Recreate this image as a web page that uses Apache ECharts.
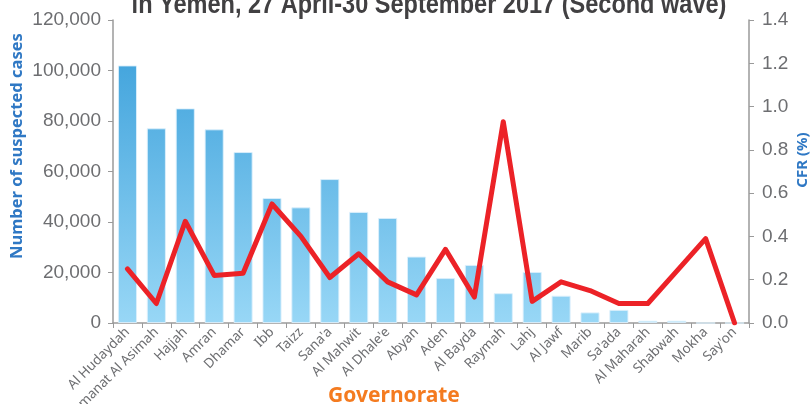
<!DOCTYPE html>
<html><head><meta charset="utf-8">
<script src="https://cdn.jsdelivr.net/npm/echarts@6/dist/echarts.min.js"></script>
<style>html,body{margin:0;padding:0;background:#fff}#c{width:812px;height:404px}</style>
</head><body><div id="c"></div>
<script>
const categories = ["Al Hudaydah","Amanat Al Asimah","Hajjah","Amran","Dhamar","Ibb","Taizz","Sana'a","Al Mahwit","Al Dhale'e","Abyan","Aden","Al Bayda","Raymah","Lahj","Al Jawf","Marib","Sa'ada","Al Maharah","Shabwah","Mokha","Say'on"];
const cases = [102000,77100,85000,76700,67700,49500,45800,57000,44000,41600,26300,17800,23000,11800,20200,10800,4200,5200,900,900,0,0];
const cfr = [0.25,0.09,0.47,0.22,0.23,0.55,0.40,0.21,0.32,0.19,0.13,0.34,0.12,0.93,0.10,0.19,0.15,0.09,0.09,0.24,0.39,0.00];
const leftTicks = [0,20000,40000,60000,80000,100000,120000];
const rightTicks = [0,0.2,0.4,0.6,0.8,1.0,1.2,1.4];
const titleText = 'in Yemen, 27 April-30 September 2017 (Second wave)';
const leftName = 'Number of suspected cases';
const rightName = 'CFR (%)';
const xName = 'Governorate';

const gray = '#6d6e71', axisGray = '#9a9a9a', blue = '#2f78c4';
const chart = echarts.init(document.getElementById('c'));
chart.setOption({
  animation:false,
  grid:{left:113, right:63, top:20, bottom:81, containLabel:false, outerBoundsMode:'none'},
  graphic:[
    {type:'text', x:429, y:5, scaleX:0.84, z:100,
     style:{text:titleText, font:'bold 28px "Liberation Sans", Arial, sans-serif', fill:'#414042', textAlign:'center', textVerticalAlign:'middle'}},
    {type:'text', x:17, y:146, rotation:Math.PI/2,
     style:{text:leftName, font:'bold 16.5px "Noto Sans", sans-serif', fill:blue, textAlign:'center', textVerticalAlign:'middle'}},
    {type:'text', x:803, y:160, rotation:Math.PI/2,
     style:{text:rightName, font:'bold 15px "Noto Sans", sans-serif', fill:blue, textAlign:'center', textVerticalAlign:'middle'}},
    {type:'text', x:394, y:396,
     style:{text:xName, font:'bold 21px "Noto Sans", sans-serif', fill:'#f47b20', textAlign:'center', textVerticalAlign:'middle'}}
  ],
  xAxis:{type:'category', data:categories,
    axisLine:{lineStyle:{color:axisGray, width:1.5}},
    axisTick:{show:true, alignWithLabel:false, length:5, lineStyle:{color:axisGray}},
    axisLabel:{rotate:45, interval:0, color:gray, fontSize:13.5, fontFamily:'"Noto Sans",sans-serif', margin:7}},
  yAxis:[
    {type:'value', min:leftTicks[0], max:leftTicks[leftTicks.length-1], interval:leftTicks[1]-leftTicks[0],
     axisLine:{show:true, lineStyle:{color:axisGray, width:1.5}},
     axisTick:{show:true, length:5, lineStyle:{color:axisGray}},
     splitLine:{show:false},
     axisLabel:{color:gray, fontSize:19, fontFamily:'"Liberation Sans",sans-serif', margin:12,
       formatter:v=>v.toString().replace(/\B(?=(\d{3})+(?!\d))/g, ',')}},
    {type:'value', min:rightTicks[0], max:rightTicks[rightTicks.length-1], interval:rightTicks[1]-rightTicks[0], position:'right',
     axisLine:{show:true, lineStyle:{color:axisGray, width:1.5}},
     axisTick:{show:true, length:5, lineStyle:{color:axisGray}},
     splitLine:{show:false},
     axisLabel:{color:gray, fontSize:19, fontFamily:'"Liberation Sans",sans-serif', margin:13,
       formatter:v=>v.toFixed(1)}}
  ],
  series:[
    {type:'bar', data:cases, yAxisIndex:0, barWidth:'66%',
     itemStyle:{borderColor:'rgba(220,240,252,0.9)', borderWidth:1,
       color:{type:'linear', x:0, y:30, x2:0, y2:323, global:true,
         colorStops:[{offset:0,color:'#3a9fda'},{offset:1,color:'#98d7f6'}]}}},
    {type:'line', data:cfr, yAxisIndex:1, showSymbol:false, symbol:'none',
     lineStyle:{color:'#ec2227', width:5, join:'round', cap:'round'}, z:5}
  ]
});
</script></body></html>
